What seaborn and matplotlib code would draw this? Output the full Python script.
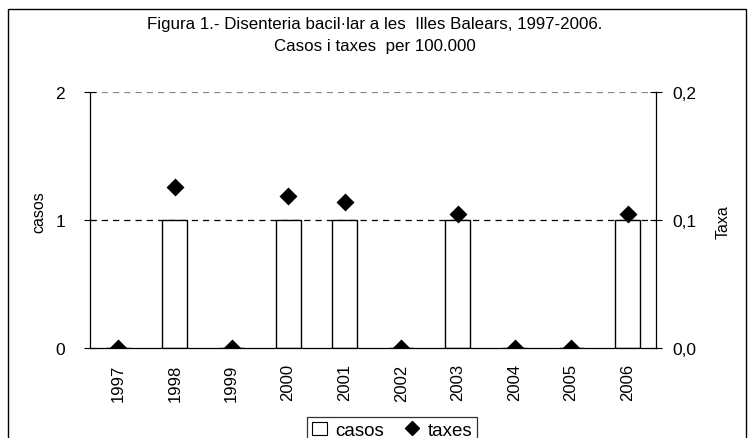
import matplotlib
matplotlib.use("Agg")
import matplotlib.pyplot as plt
import matplotlib.patches as mpatches
from matplotlib.lines import Line2D
import seaborn as sns
import pandas as pd

years = ["1997", "1998", "1999", "2000", "2001", "2002", "2003", "2004", "2005", "2006"]
casos = [0, 1, 0, 1, 1, 0, 1, 0, 0, 1]
taxes = [0.0, 0.126, 0.0, 0.119, 0.114, 0.0, 0.105, 0.0, 0.0, 0.105]
left_ticks = [0, 1, 2]
right_ticks = [0.0, 0.1, 0.2]
right_labels = ["0,0", "0,1", "0,2"]
title_lines = ["Figura 1.- Disenteria bacil·lar a les  Illes Balears, 1997-2006.",
               "Casos i taxes  per 100.000"]

sns.set_theme(style="white")
plt.rcParams["font.family"] = ["Liberation Sans", "DejaVu Sans"]
plt.rcParams["text.color"] = "black"
plt.rcParams["axes.labelcolor"] = "black"
plt.rcParams["xtick.color"] = "black"
plt.rcParams["ytick.color"] = "black"

df = pd.DataFrame({"year": years, "casos": casos, "taxes": taxes})

W, H = 751, 439
fig = plt.figure(figsize=(W / 100, H / 100), dpi=100)
ax = fig.add_axes([90 / W, 1 - 349 / H, (656 - 90) / W, (349 - 93) / H])

sns.barplot(data=df, x="year", y="casos", ax=ax, color="white", edgecolor="black",
            linewidth=1.0, width=0.44, saturation=1)
ax.set_ylim(0, 2)
ax.set_xlim(-0.5, len(years) - 0.5)
ax.set_yticks(left_ticks)
ax.set_yticklabels([str(t) for t in left_ticks], fontsize=12.5)
ax.set_ylabel("")
fig.text(39 / W, 1 - 212 / H, "casos", rotation=90, ha="center", va="center", fontsize=11.5)
ax.set_xlabel("")
for y in left_ticks[1:]:
    ax.axhline(y, color="black" if y == 1 else "#888888", linestyle=(0, (5, 4)),
               linewidth=0.9, zorder=0)

# x ticks at category boundaries, labels at centers
ax.set_xticks([i for i in range(len(years))])
ax.set_xticklabels(years, rotation=90, fontsize=12)
ax.tick_params(axis="x", which="major", length=0, pad=11)
ax.set_xticks([i + 0.5 for i in range(len(years) - 1)], minor=True)
ax.tick_params(axis="x", which="minor", length=6, width=0.8, direction="out")
ax.tick_params(axis="y", length=8, width=0.8, direction="inout", pad=14)

for s in ["top", "right"]:
    ax.spines[s].set_visible(False)
for s in ["left", "bottom"]:
    ax.spines[s].set_color("black")
    ax.spines[s].set_linewidth(0.9)

ax2 = ax.twinx()
sns.pointplot(data=df, x="year", y="taxes", ax=ax2, color="black", markers="D",
              linestyle="none", markersize=7.5, errorbar=None)
ax2.set_ylim(0, 0.2)
ax2.set_xlim(-0.5, len(years) - 0.5)
ax2.set_yticks(right_ticks)
ax2.set_yticklabels(right_labels, fontsize=12.5)
ax2.set_ylabel("")
fig.text(723 / W, 1 - 222 / H, "Taxa", rotation=90, ha="center", va="center", fontsize=11.5)
ax2.tick_params(axis="y", length=8, width=0.8, direction="inout", pad=8)
for s in ["top", "left", "bottom"]:
    ax2.spines[s].set_visible(False)
ax2.spines["right"].set_color("black")
ax2.spines["right"].set_linewidth(0.9)
ax2.set_xlabel("")

for i, line in enumerate(title_lines):
    fig.text(375 / W, 1 - (24 + 22 * i) / H, line, ha="center", va="center", fontsize=12.2)

# figure border
fig.patches.append(mpatches.Rectangle((8 / W, -0.05), (746 - 8) / W, 1.05 - 10 / H,
                                      transform=fig.transFigure, fill=False,
                                      edgecolor="black", linewidth=1.0))

handles = [mpatches.Patch(facecolor="white", edgecolor="black", linewidth=0.8, label="casos"),
           Line2D([], [], marker="D", color="black", linestyle="none", markersize=7.5, label="taxes")]
leg = fig.legend(handles=handles, loc="upper left", bbox_to_anchor=(307 / W, 1 - 418 / H),
                 ncol=2, frameon=True, fontsize=13.5, handlelength=0.8, handletextpad=0.45,
                 columnspacing=1.1, borderpad=0.25, fancybox=False, borderaxespad=0)
leg.get_frame().set_edgecolor("black")
leg.get_frame().set_linewidth(0.9)

fig.savefig("out.png", dpi=100)
